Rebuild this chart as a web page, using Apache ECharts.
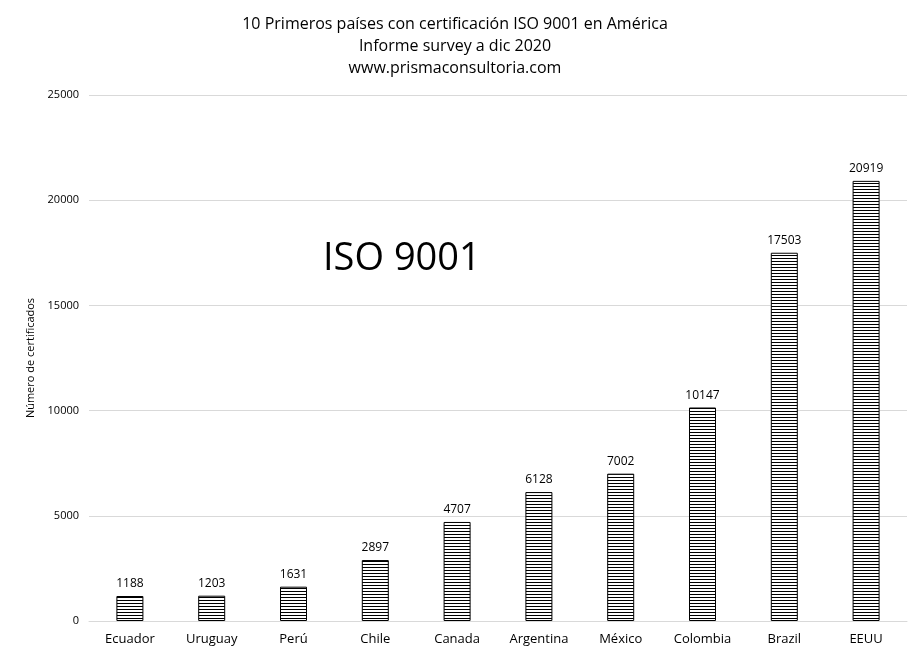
<!DOCTYPE html>
<html><head><meta charset="utf-8">
<script src="https://cdn.jsdelivr.net/npm/echarts@6/dist/echarts.min.js"></script>
<style>body{margin:0;background:#fff}#c{width:910px;height:660px}</style>
</head><body><div id="c"></div>
<script>
const categories = ['Ecuador','Uruguay','Perú','Chile','Canada','Argentina','México','Colombia','Brazil','EEUU'];
const values = [1188,1203,1631,2897,4707,6128,7002,10147,17503,20919];

const pc = document.createElement('canvas');
pc.width = 4; pc.height = 3;
const ctx = pc.getContext('2d');
ctx.fillStyle = '#fff'; ctx.fillRect(0,0,4,3);
ctx.fillStyle = '#000'; ctx.fillRect(0,0,4,1);

const chart = echarts.init(document.getElementById('c'));
chart.setOption({
  animation:false,
  textStyle:{fontFamily:'Open Sans'},
  title:{text:'10 Primeros países con certificación ISO 9001 en América\nInforme survey a dic 2020\nwww.prismaconsultoria.com',
    left:'center', top:8, textStyle:{fontSize:16, fontWeight:'normal', color:'#000', lineHeight:22, fontFamily:'Open Sans'}},
  graphic:[{type:'text', left:323, top:240, style:{text:'ISO 9001', fontSize:38, fill:'#000', fontFamily:'Open Sans'}}],
  grid:{left:89, right:3, top:95, bottom:39},
  xAxis:{type:'category', data:categories,
    axisLine:{lineStyle:{color:'#d9d9d9'}}, axisTick:{show:false},
    axisLabel:{color:'#000', fontSize:13, margin:12}},
  yAxis:{type:'value', min:0, max:25000, interval:5000,
    name:'Número de certificados', nameLocation:'middle', nameGap:50,
    nameTextStyle:{fontSize:11, color:'#000'},
    axisLabel:{color:'#000', fontSize:11, margin:10, formatter:v=>String(v)},
    splitLine:{lineStyle:{color:'#d9d9d9'}}},
  series:[{type:'bar', data:values, barWidth:27,
    itemStyle:{color:{image:pc, repeat:'repeat'}, borderColor:'#000', borderWidth:1},
    label:{show:true, position:'top', color:'#000', fontSize:12, distance:6}}]
});
</script></body></html>
